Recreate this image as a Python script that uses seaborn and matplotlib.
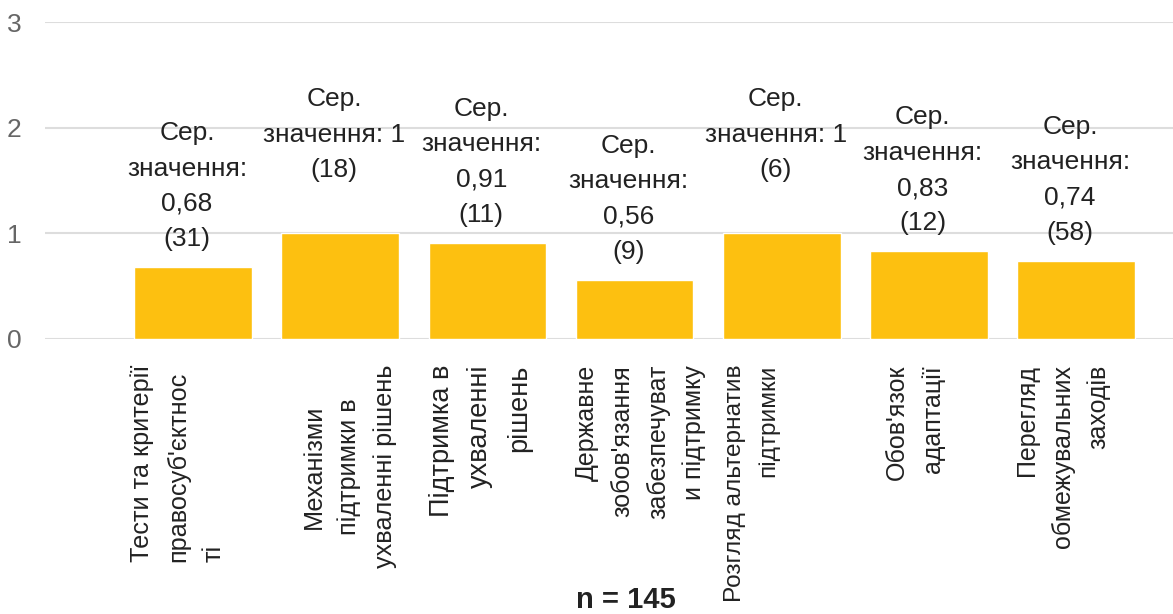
import matplotlib
matplotlib.use('Agg')
import pandas as pd
import seaborn as sns
from matplotlib import pyplot as plt

categories = [
    "Тести та критерії\nправосуб'єктнос\nті",
    "Механізми\nпідтримки в\nухваленні рішень",
    "Підтримка в\nухваленні\nрішень",
    "Державне\nзобов'язання\nзабезпечуват\nи підтримку",
    "Розгляд альтернатив\nпідтримки",
    "Обов'язок\nадаптації",
    "Перегляд\nобмежувальних\nзаходів",
]
means = [0.68, 1, 0.91, 0.56, 1, 0.83, 0.74]
counts = [31, 18, 11, 9, 6, 12, 58]
n_total = 145

# label layout tweaks (pixels / styles), mimicking the source chart
tick_nudge = [-15, 9, -7, 6, -30, -14, -13]
tick_align = ['left', 'center', 'right', 'right', 'right', 'right', 'right']
tick_size = [18.2, 18.2, 19.5, 18, 17.6, 18, 18]

sns.set_style('white')
plt.rcParams['font.family'] = ['Liberation Sans', 'DejaVu Sans']

df = pd.DataFrame({'cat': categories, 'mean': means, 'n': counts})

fig = plt.figure(figsize=(11.73, 6.14), dpi=100)
ax = fig.add_axes([45 / 1173, 275 / 614, 1128 / 1173, 317 / 614])

sns.barplot(data=df, x='cat', y='mean', color='#FDC010', saturation=1,
            width=0.8, ax=ax, zorder=3)

ax.set_ylim(0, 3)
ax.set_xlim(-1.006, 6.659)
ax.set_yticks([0, 1, 2, 3])
ax.yaxis.grid(True, color='#dddddd', linewidth=1.5, zorder=0)
ax.xaxis.grid(False)
ax.set_axisbelow(True)
for s in ax.spines.values():
    s.set_visible(False)
ax.tick_params(axis='y', length=0, pad=17, labelsize=19, labelcolor='#666666')
ax.tick_params(axis='x', length=0, labelbottom=False)
ax.set_xlabel('')
ax.set_ylabel('')

# value annotations above bars
for i, (m, c) in enumerate(zip(means, counts)):
    if float(m).is_integer():
        txt = f"Сер.\nзначення: {int(m)}\n({c})"
    else:
        num = f"{m:.2f}".replace('.', ',')
        txt = f"Сер.\nзначення:\n{num}\n({c})"
    ax.annotate(txt, xy=(i, m), xytext=(-6, 146), textcoords='offset pixels',
                ha='center', va='top', fontsize=19, color='#222222',
                linespacing=1.6, annotation_clip=False)

# rotated category labels
for i, lab in enumerate(categories):
    ax.annotate(lab, xy=(i, 0), xytext=(tick_nudge[i], -26), textcoords='offset pixels',
                rotation=90, ha='center', va='top', multialignment=tick_align[i],
                fontsize=tick_size[i], color='#222222', linespacing=1.62,
                annotation_clip=False)

fig.text(626 / 1173, 1 - 608 / 614, f"n = {n_total}", ha='center', va='baseline',
         fontsize=21, fontweight='bold', color='#222222')

fig.savefig('out.png', dpi=100)
